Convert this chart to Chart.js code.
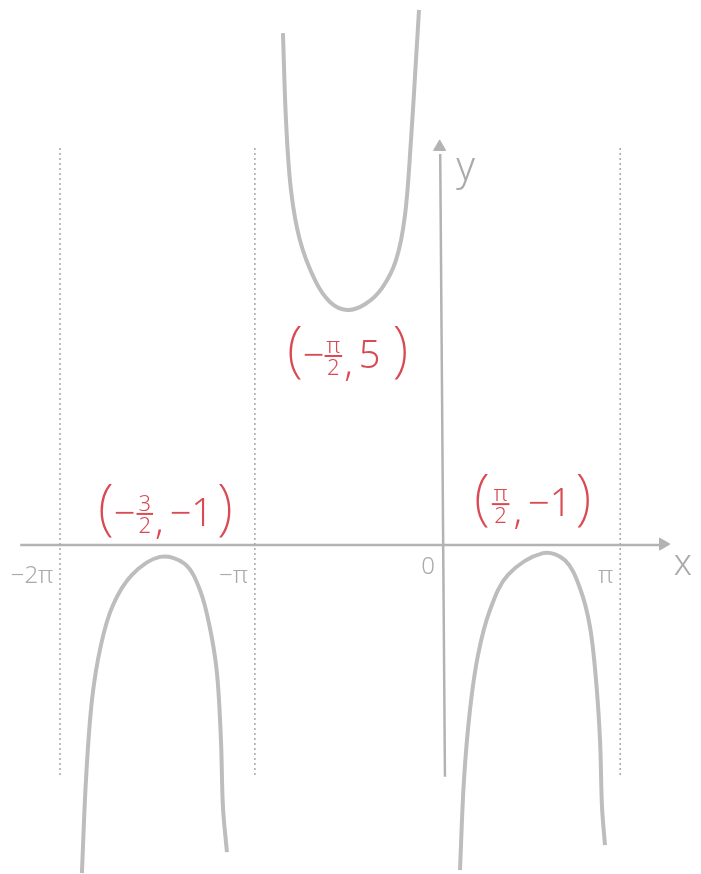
<!DOCTYPE html>
<html>
<head>
<meta charset="utf-8">
<script src="https://cdn.jsdelivr.net/npm/chart.js@4"></script>
<style>
    body { margin: 0; background: #fff; }
    #wrap { width: 701px; height: 874px; position: relative; }
</style>
</head>
<body>
<div id="wrap"><canvas id="sketchChart"></canvas></div>
<script>
// sketch units: x in radians, y in sketch units (not to scale, as drawn)
const leftBranchX  = [-6.061, -5.993, -5.892, -5.741, -5.539, -5.219, -4.747, -4.327, -4.074, -3.906, -3.788, -3.721, -3.687, -3.62];
const leftBranchY  = [-6.92, -4.96, -3.27, -2.11, -1.27, -0.63, -0.25, -0.40, -0.95, -1.75, -2.70, -4.11, -5.53, -6.48];
const midBranchX   = [-2.677, -2.626, -2.542, -2.391, -2.138, -1.886, -1.599, -1.296, -1.01, -0.774, -0.623, -0.522, -0.438, -0.387];
const midBranchY   = [10.80, 8.97, 7.49, 6.43, 5.59, 5.13, 4.96, 5.08, 5.42, 6.01, 6.96, 8.54, 10.23, 11.29];
const rightBranchX = [0.303, 0.37, 0.471, 0.606, 0.808, 1.111, 1.70, 2.071, 2.323, 2.492, 2.593, 2.66, 2.694, 2.744];
const rightBranchY = [-6.86, -4.96, -3.48, -2.32, -1.37, -0.63, -0.17, -0.32, -0.91, -1.73, -2.85, -4.11, -5.53, -6.33];

const asymptoteX = [-6.43, -3.15, 3.0];
const asymptoteY = [8.38, -4.89];
const tickValues = [-6.43, -3.15, 0, 3.0];
const tickLabels = ['\u22122\u03c0', '\u2212\u03c0', '0', '\u03c0'];

const xRange = [-7.44, 4.36];
const yRange = [-6.94, 11.5];

const GREY = '#bdbdbd';
const AXIS = '#b3b3b3';
const RED = '#d94a53';

const toPoints = (xs, ys) => xs.map((x, i) => ({ x: x, y: ys[i] }));

const curveStyle = {
    showLine: true,
    borderColor: GREY,
    borderWidth: 4,
    pointRadius: 0,
    tension: 0.35,
    fill: false
};

const datasets = [];
asymptoteX.forEach(x => {
    datasets.push({
        data: [{ x: x, y: asymptoteY[0] }, { x: x, y: asymptoteY[1] }],
        showLine: true, borderColor: '#a8a8a8', borderWidth: 1.5,
        borderDash: [2, 3], pointRadius: 0
    });
});
// axes
datasets.push({
    data: [{ x: -7.10, y: 0 }, { x: 3.67, y: 0 }],
    showLine: true, borderColor: AXIS, borderWidth: 2.5, pointRadius: 0
});
datasets.push({
    data: [{ x: 0.05, y: -4.89 }, { x: -0.03, y: 8.25 }],
    showLine: true, borderColor: AXIS, borderWidth: 2.5, pointRadius: 0
});
// arrow heads
datasets.push({
    data: [{ x: 3.72, y: 0.02 }],
    pointStyle: 'triangle', rotation: 90, pointRadius: 7,
    backgroundColor: AXIS, borderColor: AXIS
});
datasets.push({
    data: [{ x: -0.04, y: 8.4 }],
    pointStyle: 'triangle', rotation: 0, pointRadius: 7,
    backgroundColor: AXIS, borderColor: AXIS
});
datasets.push({ data: toPoints(leftBranchX, leftBranchY), ...curveStyle });
datasets.push({ data: toPoints(midBranchX, midBranchY), ...curveStyle });
datasets.push({ data: toPoints(rightBranchX, rightBranchY), ...curveStyle });

// draws a handwritten-style point label: pieces laid out left to right
const drawPieces = (ctx, left, cy, pieces) => {
    let x = left;
    pieces.forEach(p => {
        ctx.fillStyle = RED;
        ctx.strokeStyle = RED;
        if (p.num) {
            ctx.font = '300 22px "Noto Sans"';
            const w = Math.max(ctx.measureText(p.num).width, ctx.measureText(p.den).width) + 4;
            ctx.textAlign = 'center';
            ctx.textBaseline = 'alphabetic';
            ctx.fillText(p.num, x + w / 2, cy - 4);
            ctx.textBaseline = 'top';
            ctx.fillText(p.den, x + w / 2, cy + 1);
            ctx.lineWidth = 2;
            ctx.beginPath();
            ctx.moveTo(x, cy - 1);
            ctx.lineTo(x + w, cy - 1);
            ctx.stroke();
            x += w + (p.gap || 0);
        } else {
            ctx.font = p.font;
            ctx.textAlign = 'left';
            ctx.textBaseline = 'middle';
            ctx.fillText(p.t, x, cy + (p.dy || 0));
            x += ctx.measureText(p.t).width + (p.gap || 0);
        }
    });
};

const PAREN = '200 60px "Noto Sans"';
const MAIN = '300 38px "Noto Sans"';

const sketchLabels = {
    id: 'sketchLabels',
    afterDatasetsDraw(chart) {
        const { ctx, scales } = chart;
        const px = v => scales.x.getPixelForValue(v);
        const py = v => scales.y.getPixelForValue(v);
        ctx.save();
        // tick labels, drawn left of each asymptote
        ctx.fillStyle = '#aaaaaa';
        ctx.font = '300 24px "Noto Sans"';
        ctx.textAlign = 'right';
        ctx.textBaseline = 'middle';
        tickValues.forEach((v, i) => {
            const yOff = i === 2 ? 22 : 31;
            ctx.fillText(tickLabels[i], px(v) - 7, py(0) + yOff);
        });
        ctx.textAlign = 'left';
        ctx.font = '300 36px "Noto Sans"';
        ctx.fillText('x', px(3.9), py(0) + 20);
        ctx.font = '300 40px "Noto Sans"';
        ctx.fillText('y', px(0.24), py(7.95));

        // extremum labels
        drawPieces(ctx, px(-4.747) - 62, py(-0.25) - 42, [
            { t: '(', font: PAREN, dy: -4 },
            { t: '\u2212', font: MAIN, gap: 1 },
            { num: '3', den: '2', gap: 2 },
            { t: ',', font: MAIN, dy: 8, gap: 6 },
            { t: '\u22121', font: MAIN, gap: 4 },
            { t: ')', font: PAREN, dy: -4 }
        ]);
        drawPieces(ctx, px(-1.599) - 60, py(4.96) + 47, [
            { t: '(', font: PAREN, dy: -4 },
            { t: '\u2212', font: MAIN },
            { num: '\u03c0', den: '2', gap: 2 },
            { t: ',', font: MAIN, dy: 8, gap: 6 },
            { t: '5', font: MAIN, gap: 12 },
            { t: ')', font: PAREN, dy: -4 }
        ]);
        drawPieces(ctx, px(1.70) - 69, py(-0.17) - 48, [
            { t: '(', font: PAREN, dy: -4, gap: 2 },
            { num: '\u03c0', den: '2', gap: 4 },
            { t: ',', font: MAIN, dy: 8, gap: 6 },
            { t: '\u22121', font: MAIN, gap: 4 },
            { t: ')', font: PAREN, dy: -4 }
        ]);
        ctx.restore();
    }
};

const ctx = document.getElementById('sketchChart').getContext('2d');
new Chart(ctx, {
    type: 'scatter',
    data: { datasets: datasets },
    options: {
        responsive: true,
        maintainAspectRatio: false,
        animation: false,
        layout: { padding: 0, autoPadding: false },
        scales: {
            x: { type: 'linear', display: false, min: xRange[0], max: xRange[1] },
            y: { type: 'linear', display: false, min: yRange[0], max: yRange[1] }
        },
        plugins: {
            legend: { display: false },
            tooltip: { enabled: false }
        }
    },
    plugins: [sketchLabels]
});
</script>
</body>
</html>
